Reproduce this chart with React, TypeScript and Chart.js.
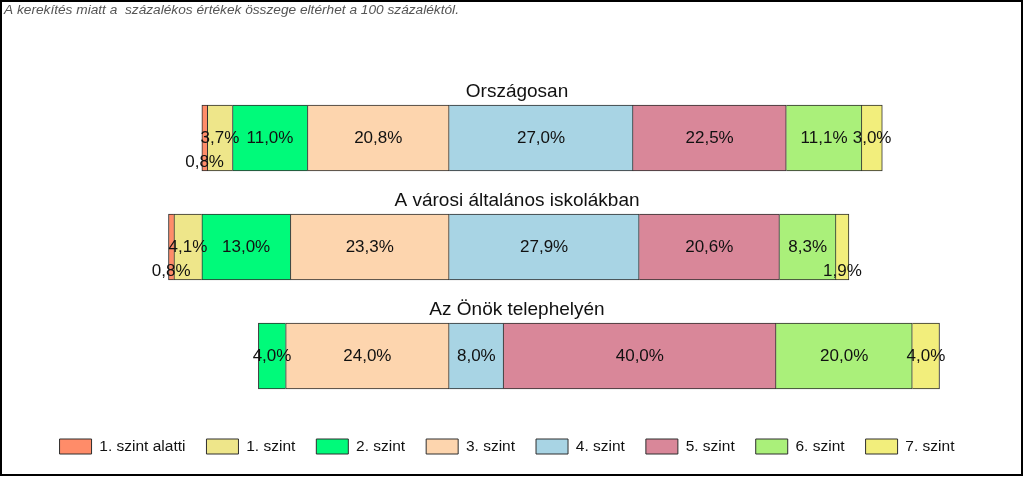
import React, { useEffect, useRef } from 'react';
import { Chart, registerables } from 'chart.js';

Chart.register(...registerables);

const NOTE = 'A kerekítés miatt a  százalékos értékek összege eltérhet a 100 százaléktól.';
const CATEGORIES = ['Országosan', 'A városi általános iskolákban', 'Az Önök telephelyén'];
const LEVELS = ['1. szint alatti', '1. szint', '2. szint', '3. szint', '4. szint', '5. szint', '6. szint', '7. szint'];

// percentages per level, one value per category
const LEVEL_BELOW_1 = [0.8, 0.8, 0];
const LEVEL_1 = [3.7, 4.1, 0];
const LEVEL_2 = [11.0, 13.0, 4.0];
const LEVEL_3 = [20.8, 23.3, 24.0];
const LEVEL_4 = [27.0, 27.9, 8.0];
const LEVEL_5 = [22.5, 20.6, 40.0];
const LEVEL_6 = [11.1, 8.3, 20.0];
const LEVEL_7 = [3.0, 1.9, 4.0];

const SERIES = [LEVEL_BELOW_1, LEVEL_1, LEVEL_2, LEVEL_3, LEVEL_4, LEVEL_5, LEVEL_6, LEVEL_7];
// levels drawn to the left of the 3/4 boundary
const LEFT_SIDE = [true, true, true, true, false, false, false, false];
const COLORS = ['#FF8C69', '#EEE68A', '#00FA7A', '#FDD5AE', '#A8D4E4', '#D98799', '#AAF07A', '#F2EE7C'];

const FONT = '"Liberation Sans", Arial, sans-serif';

const fmt = (v: number) => v.toFixed(1).replace('.', ',') + '%';

const annotations = {
  id: 'annotations',
  afterDraw(chart: any) {
    const ctx = chart.ctx;
    ctx.save();
    // note at top-left
    ctx.font = `italic 13.7px ${FONT}`;
    ctx.fillStyle = '#555';
    ctx.textAlign = 'left';
    ctx.textBaseline = 'alphabetic';
    ctx.fillText(NOTE, 4, 13.5);

    // category titles above the bars
    const refMeta = chart.getDatasetMeta(3);
    ctx.font = `19px ${FONT}`;
    ctx.fillStyle = '#111';
    ctx.textAlign = 'center';
    CATEGORIES.forEach((c, i) => {
      const el = refMeta.data[i];
      const { y, height } = el.getProps(['y', 'height'], true);
      ctx.fillText(c, chart.width / 2 + 5, y - height / 2 - 8.5);
    });

    // value labels
    ctx.font = `17px ${FONT}`;
    ctx.textBaseline = 'middle';
    SERIES.forEach((vals, di) => {
      const meta = chart.getDatasetMeta(di);
      meta.data.forEach((el: any, i: number) => {
        const v = vals[i];
        if (!v) return;
        const { x, base, y } = el.getProps(['x', 'base', 'y'], true);
        const cy = v < 2 ? y + 24.5 : y;
        ctx.fillText(fmt(v), (x + base) / 2, cy);
      });
    });
    ctx.restore();
  },
};

export default function App() {
  const ref = useRef<HTMLCanvasElement>(null);
  useEffect(() => {
    document.body.style.margin = '0';
    const datasets = SERIES.map((vals, di) => ({
      label: LEVELS[di],
      data: vals.map((v) => (v ? (LEFT_SIDE[di] ? -v : v) : null)),
      backgroundColor: COLORS[di],
      borderColor: '#2e2e2e',
      borderWidth: 1,
      borderSkipped: di === 3 ? false : 'start',
      order: LEFT_SIDE[di] ? 3 - di : di,
    }));
    const chart = new Chart(ref.current as HTMLCanvasElement, {
      type: 'bar',
      data: { labels: CATEGORIES, datasets: datasets as any },
      options: {
        indexAxis: 'y',
        animation: false,
        responsive: false,
        devicePixelRatio: 1,
        layout: { padding: { left: 20, right: 30, top: 83.5, bottom: 13.75 } },
        datasets: { bar: { barThickness: 66 } },
        scales: {
          x: { stacked: true, min: -63, max: 80, display: false },
          y: { stacked: true, display: false },
        },
        plugins: {
          tooltip: { enabled: false },
          legend: {
            position: 'bottom',
            title: { display: true, text: '', font: { size: 1, lineHeight: 7.25 }, padding: 0 },
            labels: {
              sort: (a: any, b: any) => a.datasetIndex - b.datasetIndex,
              boxWidth: 32,
              boxHeight: 15,
              padding: 21,
              color: '#111',
              font: { size: 15.5, family: FONT },
            },
          },
        },
      } as any,
      plugins: [annotations],
    });
    return () => chart.destroy();
  }, []);

  return (
    <div style={{ position: 'absolute', left: 0, top: 0, width: 1024, height: 478, background: '#fff' }}>
      <div
        style={{
          position: 'absolute',
          left: 0,
          top: 0,
          width: 1023,
          height: 476,
          border: '2px solid #000',
          boxSizing: 'border-box',
        }}
      />
      <canvas
        ref={ref}
        width={1024}
        height={478}
        style={{ position: 'absolute', left: 0, top: 0, width: 1024, height: 478 }}
      />
    </div>
  );
}
